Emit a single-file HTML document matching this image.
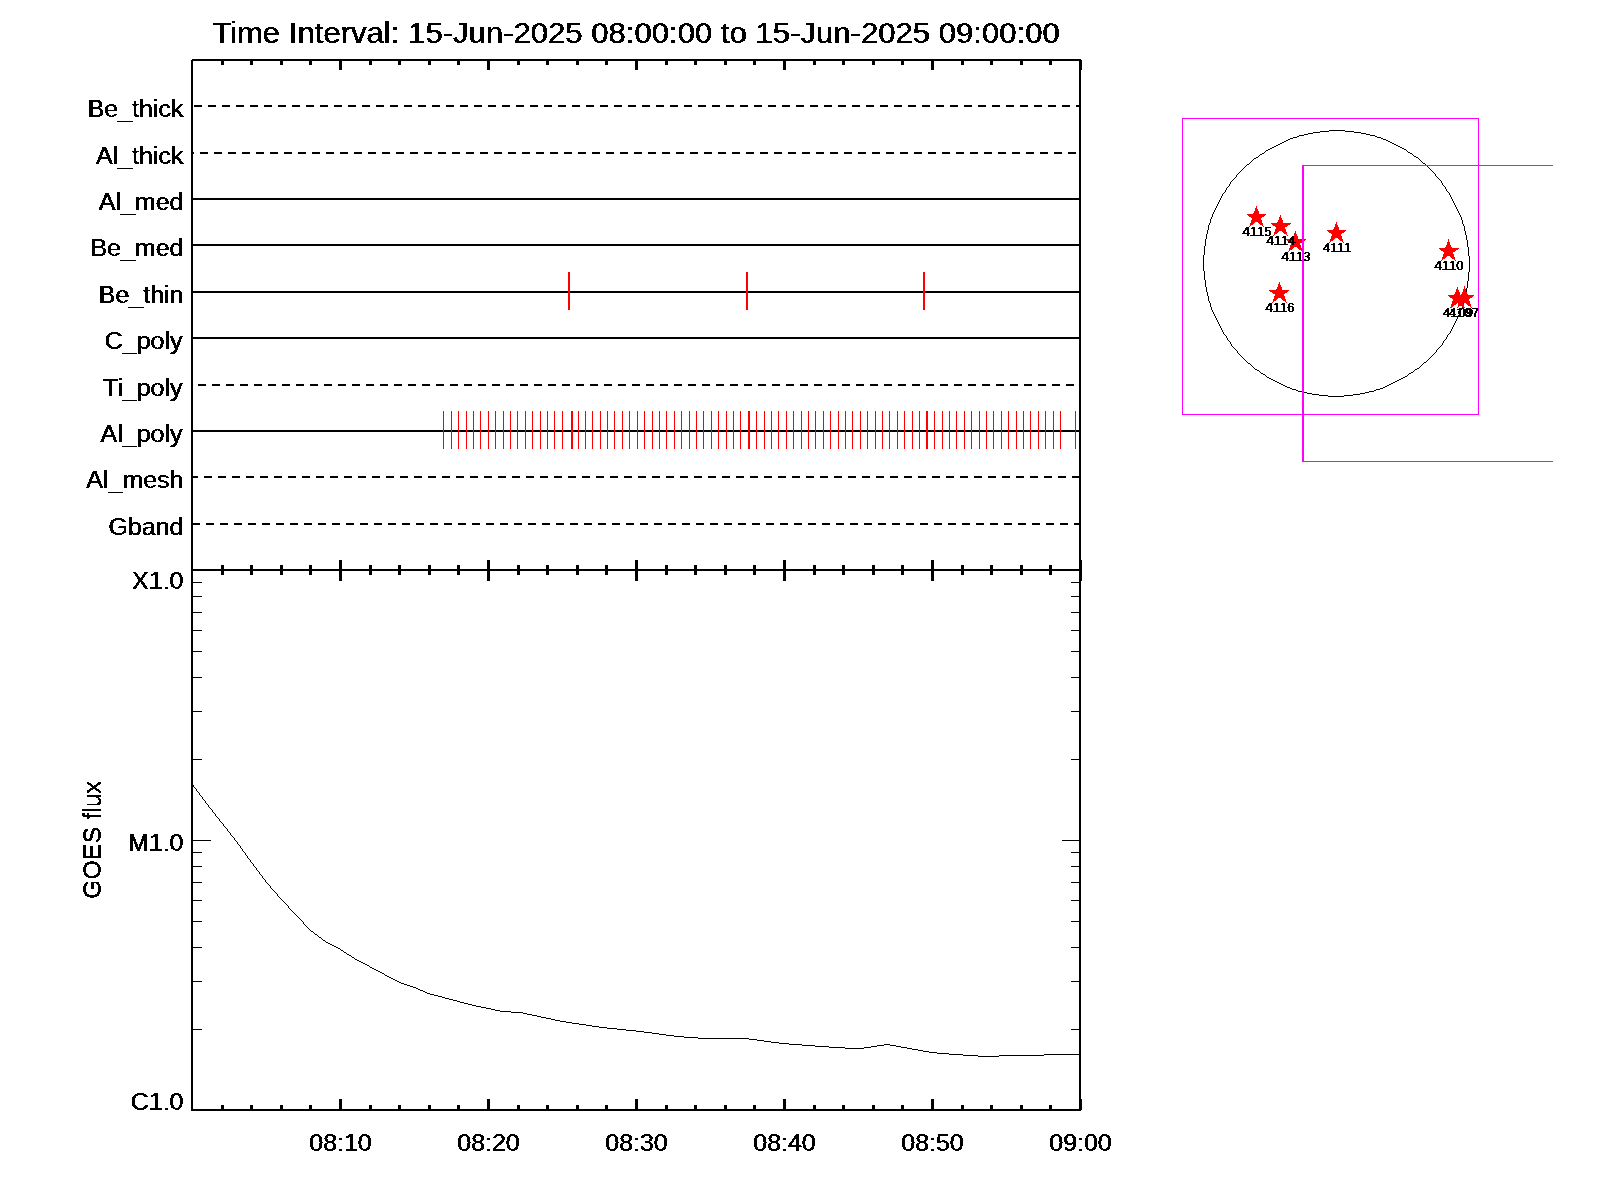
<!DOCTYPE html>
<html lang="en"><head><meta charset="utf-8"><title>Time Interval plot</title>
<style>html,body{margin:0;padding:0;background:#fff;}body{width:1600px;height:1200px;overflow:hidden;}svg{display:block;}text{font-family:"Liberation Sans",sans-serif;fill:#000;}.t{font-size:31px;}.l{font-size:25px;}.s{font-size:13px;letter-spacing:0.4px;}</style></head><body>
<svg width="1600" height="1200" viewBox="0 0 1600 1200">
<rect width="1600" height="1200" fill="#fff"/>
<defs><filter id="bold" x="-10%" y="-30%" width="120%" height="160%" color-interpolation-filters="sRGB"><feComponentTransfer result="t"><feFuncA type="discrete" tableValues="0 0 0 1 1"/></feComponentTransfer><feOffset in="t" dx="1" dy="0" result="o"/><feMerge><feMergeNode in="t"/><feMergeNode in="o"/></feMerge></filter><filter id="bold2" x="-10%" y="-30%" width="120%" height="160%" color-interpolation-filters="sRGB"><feComponentTransfer result="t"><feFuncA type="discrete" tableValues="0 1"/></feComponentTransfer><feOffset in="t" dx="1" dy="0" result="o"/><feMerge><feMergeNode in="t"/><feMergeNode in="o"/></feMerge></filter></defs>
<g shape-rendering="crispEdges">
<rect x="193" y="523" width="7" height="2" fill="#000"/>
<rect x="206" y="523" width="8" height="2" fill="#000"/>
<rect x="220" y="523" width="8" height="2" fill="#000"/>
<rect x="234" y="523" width="8" height="2" fill="#000"/>
<rect x="248" y="523" width="8" height="2" fill="#000"/>
<rect x="262" y="523" width="8" height="2" fill="#000"/>
<rect x="276" y="523" width="8" height="2" fill="#000"/>
<rect x="290" y="523" width="8" height="2" fill="#000"/>
<rect x="304" y="523" width="8" height="2" fill="#000"/>
<rect x="318" y="523" width="8" height="2" fill="#000"/>
<rect x="332" y="523" width="8" height="2" fill="#000"/>
<rect x="346" y="523" width="8" height="2" fill="#000"/>
<rect x="360" y="523" width="8" height="2" fill="#000"/>
<rect x="374" y="523" width="8" height="2" fill="#000"/>
<rect x="388" y="523" width="8" height="2" fill="#000"/>
<rect x="402" y="523" width="8" height="2" fill="#000"/>
<rect x="416" y="523" width="8" height="2" fill="#000"/>
<rect x="430" y="523" width="8" height="2" fill="#000"/>
<rect x="444" y="523" width="8" height="2" fill="#000"/>
<rect x="458" y="523" width="8" height="2" fill="#000"/>
<rect x="472" y="523" width="8" height="2" fill="#000"/>
<rect x="486" y="523" width="8" height="2" fill="#000"/>
<rect x="500" y="523" width="8" height="2" fill="#000"/>
<rect x="514" y="523" width="8" height="2" fill="#000"/>
<rect x="528" y="523" width="8" height="2" fill="#000"/>
<rect x="542" y="523" width="8" height="2" fill="#000"/>
<rect x="556" y="523" width="8" height="2" fill="#000"/>
<rect x="570" y="523" width="8" height="2" fill="#000"/>
<rect x="584" y="523" width="8" height="2" fill="#000"/>
<rect x="598" y="523" width="8" height="2" fill="#000"/>
<rect x="612" y="523" width="8" height="2" fill="#000"/>
<rect x="626" y="523" width="8" height="2" fill="#000"/>
<rect x="640" y="523" width="8" height="2" fill="#000"/>
<rect x="654" y="523" width="8" height="2" fill="#000"/>
<rect x="668" y="523" width="8" height="2" fill="#000"/>
<rect x="682" y="523" width="8" height="2" fill="#000"/>
<rect x="696" y="523" width="8" height="2" fill="#000"/>
<rect x="710" y="523" width="8" height="2" fill="#000"/>
<rect x="724" y="523" width="8" height="2" fill="#000"/>
<rect x="738" y="523" width="8" height="2" fill="#000"/>
<rect x="752" y="523" width="8" height="2" fill="#000"/>
<rect x="766" y="523" width="8" height="2" fill="#000"/>
<rect x="780" y="523" width="8" height="2" fill="#000"/>
<rect x="794" y="523" width="8" height="2" fill="#000"/>
<rect x="808" y="523" width="8" height="2" fill="#000"/>
<rect x="822" y="523" width="8" height="2" fill="#000"/>
<rect x="836" y="523" width="8" height="2" fill="#000"/>
<rect x="850" y="523" width="8" height="2" fill="#000"/>
<rect x="864" y="523" width="8" height="2" fill="#000"/>
<rect x="878" y="523" width="8" height="2" fill="#000"/>
<rect x="892" y="523" width="8" height="2" fill="#000"/>
<rect x="906" y="523" width="8" height="2" fill="#000"/>
<rect x="920" y="523" width="8" height="2" fill="#000"/>
<rect x="934" y="523" width="8" height="2" fill="#000"/>
<rect x="948" y="523" width="8" height="2" fill="#000"/>
<rect x="962" y="523" width="8" height="2" fill="#000"/>
<rect x="976" y="523" width="8" height="2" fill="#000"/>
<rect x="990" y="523" width="8" height="2" fill="#000"/>
<rect x="1004" y="523" width="8" height="2" fill="#000"/>
<rect x="1018" y="523" width="8" height="2" fill="#000"/>
<rect x="1032" y="523" width="8" height="2" fill="#000"/>
<rect x="1046" y="523" width="8" height="2" fill="#000"/>
<rect x="1060" y="523" width="8" height="2" fill="#000"/>
<rect x="1074" y="523" width="5" height="2" fill="#000"/>
<rect x="193" y="476" width="5" height="2" fill="#000"/>
<rect x="204" y="476" width="8" height="2" fill="#000"/>
<rect x="218" y="476" width="8" height="2" fill="#000"/>
<rect x="232" y="476" width="8" height="2" fill="#000"/>
<rect x="246" y="476" width="8" height="2" fill="#000"/>
<rect x="260" y="476" width="8" height="2" fill="#000"/>
<rect x="274" y="476" width="8" height="2" fill="#000"/>
<rect x="288" y="476" width="8" height="2" fill="#000"/>
<rect x="302" y="476" width="8" height="2" fill="#000"/>
<rect x="316" y="476" width="8" height="2" fill="#000"/>
<rect x="330" y="476" width="8" height="2" fill="#000"/>
<rect x="344" y="476" width="8" height="2" fill="#000"/>
<rect x="358" y="476" width="8" height="2" fill="#000"/>
<rect x="372" y="476" width="8" height="2" fill="#000"/>
<rect x="386" y="476" width="8" height="2" fill="#000"/>
<rect x="400" y="476" width="8" height="2" fill="#000"/>
<rect x="414" y="476" width="8" height="2" fill="#000"/>
<rect x="428" y="476" width="8" height="2" fill="#000"/>
<rect x="442" y="476" width="8" height="2" fill="#000"/>
<rect x="456" y="476" width="8" height="2" fill="#000"/>
<rect x="470" y="476" width="8" height="2" fill="#000"/>
<rect x="484" y="476" width="8" height="2" fill="#000"/>
<rect x="498" y="476" width="8" height="2" fill="#000"/>
<rect x="512" y="476" width="8" height="2" fill="#000"/>
<rect x="526" y="476" width="8" height="2" fill="#000"/>
<rect x="540" y="476" width="8" height="2" fill="#000"/>
<rect x="554" y="476" width="8" height="2" fill="#000"/>
<rect x="568" y="476" width="8" height="2" fill="#000"/>
<rect x="582" y="476" width="8" height="2" fill="#000"/>
<rect x="596" y="476" width="8" height="2" fill="#000"/>
<rect x="610" y="476" width="8" height="2" fill="#000"/>
<rect x="624" y="476" width="8" height="2" fill="#000"/>
<rect x="638" y="476" width="8" height="2" fill="#000"/>
<rect x="652" y="476" width="8" height="2" fill="#000"/>
<rect x="666" y="476" width="8" height="2" fill="#000"/>
<rect x="680" y="476" width="8" height="2" fill="#000"/>
<rect x="694" y="476" width="8" height="2" fill="#000"/>
<rect x="708" y="476" width="8" height="2" fill="#000"/>
<rect x="722" y="476" width="8" height="2" fill="#000"/>
<rect x="736" y="476" width="8" height="2" fill="#000"/>
<rect x="750" y="476" width="8" height="2" fill="#000"/>
<rect x="764" y="476" width="8" height="2" fill="#000"/>
<rect x="778" y="476" width="8" height="2" fill="#000"/>
<rect x="792" y="476" width="8" height="2" fill="#000"/>
<rect x="806" y="476" width="8" height="2" fill="#000"/>
<rect x="820" y="476" width="8" height="2" fill="#000"/>
<rect x="834" y="476" width="8" height="2" fill="#000"/>
<rect x="848" y="476" width="8" height="2" fill="#000"/>
<rect x="862" y="476" width="8" height="2" fill="#000"/>
<rect x="876" y="476" width="8" height="2" fill="#000"/>
<rect x="890" y="476" width="8" height="2" fill="#000"/>
<rect x="904" y="476" width="8" height="2" fill="#000"/>
<rect x="918" y="476" width="8" height="2" fill="#000"/>
<rect x="932" y="476" width="8" height="2" fill="#000"/>
<rect x="946" y="476" width="8" height="2" fill="#000"/>
<rect x="960" y="476" width="8" height="2" fill="#000"/>
<rect x="974" y="476" width="8" height="2" fill="#000"/>
<rect x="988" y="476" width="8" height="2" fill="#000"/>
<rect x="1002" y="476" width="8" height="2" fill="#000"/>
<rect x="1016" y="476" width="8" height="2" fill="#000"/>
<rect x="1030" y="476" width="8" height="2" fill="#000"/>
<rect x="1044" y="476" width="8" height="2" fill="#000"/>
<rect x="1058" y="476" width="8" height="2" fill="#000"/>
<rect x="1072" y="476" width="7" height="2" fill="#000"/>
<rect x="193" y="430" width="886" height="2" fill="#000"/>
<rect x="198" y="384" width="8" height="2" fill="#000"/>
<rect x="212" y="384" width="8" height="2" fill="#000"/>
<rect x="226" y="384" width="8" height="2" fill="#000"/>
<rect x="240" y="384" width="8" height="2" fill="#000"/>
<rect x="254" y="384" width="8" height="2" fill="#000"/>
<rect x="268" y="384" width="8" height="2" fill="#000"/>
<rect x="282" y="384" width="8" height="2" fill="#000"/>
<rect x="296" y="384" width="8" height="2" fill="#000"/>
<rect x="310" y="384" width="8" height="2" fill="#000"/>
<rect x="324" y="384" width="8" height="2" fill="#000"/>
<rect x="338" y="384" width="8" height="2" fill="#000"/>
<rect x="352" y="384" width="8" height="2" fill="#000"/>
<rect x="366" y="384" width="8" height="2" fill="#000"/>
<rect x="380" y="384" width="8" height="2" fill="#000"/>
<rect x="394" y="384" width="8" height="2" fill="#000"/>
<rect x="408" y="384" width="8" height="2" fill="#000"/>
<rect x="422" y="384" width="8" height="2" fill="#000"/>
<rect x="436" y="384" width="8" height="2" fill="#000"/>
<rect x="450" y="384" width="8" height="2" fill="#000"/>
<rect x="464" y="384" width="8" height="2" fill="#000"/>
<rect x="478" y="384" width="8" height="2" fill="#000"/>
<rect x="492" y="384" width="8" height="2" fill="#000"/>
<rect x="506" y="384" width="8" height="2" fill="#000"/>
<rect x="520" y="384" width="8" height="2" fill="#000"/>
<rect x="534" y="384" width="8" height="2" fill="#000"/>
<rect x="548" y="384" width="8" height="2" fill="#000"/>
<rect x="562" y="384" width="8" height="2" fill="#000"/>
<rect x="576" y="384" width="8" height="2" fill="#000"/>
<rect x="590" y="384" width="8" height="2" fill="#000"/>
<rect x="604" y="384" width="8" height="2" fill="#000"/>
<rect x="618" y="384" width="8" height="2" fill="#000"/>
<rect x="632" y="384" width="8" height="2" fill="#000"/>
<rect x="646" y="384" width="8" height="2" fill="#000"/>
<rect x="660" y="384" width="8" height="2" fill="#000"/>
<rect x="674" y="384" width="8" height="2" fill="#000"/>
<rect x="688" y="384" width="8" height="2" fill="#000"/>
<rect x="702" y="384" width="8" height="2" fill="#000"/>
<rect x="716" y="384" width="8" height="2" fill="#000"/>
<rect x="730" y="384" width="8" height="2" fill="#000"/>
<rect x="744" y="384" width="8" height="2" fill="#000"/>
<rect x="758" y="384" width="8" height="2" fill="#000"/>
<rect x="772" y="384" width="8" height="2" fill="#000"/>
<rect x="786" y="384" width="8" height="2" fill="#000"/>
<rect x="800" y="384" width="8" height="2" fill="#000"/>
<rect x="814" y="384" width="8" height="2" fill="#000"/>
<rect x="828" y="384" width="8" height="2" fill="#000"/>
<rect x="842" y="384" width="8" height="2" fill="#000"/>
<rect x="856" y="384" width="8" height="2" fill="#000"/>
<rect x="870" y="384" width="8" height="2" fill="#000"/>
<rect x="884" y="384" width="8" height="2" fill="#000"/>
<rect x="898" y="384" width="8" height="2" fill="#000"/>
<rect x="912" y="384" width="8" height="2" fill="#000"/>
<rect x="926" y="384" width="8" height="2" fill="#000"/>
<rect x="940" y="384" width="8" height="2" fill="#000"/>
<rect x="954" y="384" width="8" height="2" fill="#000"/>
<rect x="968" y="384" width="8" height="2" fill="#000"/>
<rect x="982" y="384" width="8" height="2" fill="#000"/>
<rect x="996" y="384" width="8" height="2" fill="#000"/>
<rect x="1010" y="384" width="8" height="2" fill="#000"/>
<rect x="1024" y="384" width="8" height="2" fill="#000"/>
<rect x="1038" y="384" width="8" height="2" fill="#000"/>
<rect x="1052" y="384" width="8" height="2" fill="#000"/>
<rect x="1066" y="384" width="8" height="2" fill="#000"/>
<rect x="193" y="337" width="886" height="2" fill="#000"/>
<rect x="193" y="291" width="886" height="2" fill="#000"/>
<rect x="193" y="244" width="886" height="2" fill="#000"/>
<rect x="193" y="198" width="886" height="2" fill="#000"/>
<rect x="193" y="152" width="1" height="2" fill="#000"/>
<rect x="200" y="152" width="8" height="2" fill="#000"/>
<rect x="214" y="152" width="8" height="2" fill="#000"/>
<rect x="228" y="152" width="8" height="2" fill="#000"/>
<rect x="242" y="152" width="8" height="2" fill="#000"/>
<rect x="256" y="152" width="8" height="2" fill="#000"/>
<rect x="270" y="152" width="8" height="2" fill="#000"/>
<rect x="284" y="152" width="8" height="2" fill="#000"/>
<rect x="298" y="152" width="8" height="2" fill="#000"/>
<rect x="312" y="152" width="8" height="2" fill="#000"/>
<rect x="326" y="152" width="8" height="2" fill="#000"/>
<rect x="340" y="152" width="8" height="2" fill="#000"/>
<rect x="354" y="152" width="8" height="2" fill="#000"/>
<rect x="368" y="152" width="8" height="2" fill="#000"/>
<rect x="382" y="152" width="8" height="2" fill="#000"/>
<rect x="396" y="152" width="8" height="2" fill="#000"/>
<rect x="410" y="152" width="8" height="2" fill="#000"/>
<rect x="424" y="152" width="8" height="2" fill="#000"/>
<rect x="438" y="152" width="8" height="2" fill="#000"/>
<rect x="452" y="152" width="8" height="2" fill="#000"/>
<rect x="466" y="152" width="8" height="2" fill="#000"/>
<rect x="480" y="152" width="8" height="2" fill="#000"/>
<rect x="494" y="152" width="8" height="2" fill="#000"/>
<rect x="508" y="152" width="8" height="2" fill="#000"/>
<rect x="522" y="152" width="8" height="2" fill="#000"/>
<rect x="536" y="152" width="8" height="2" fill="#000"/>
<rect x="550" y="152" width="8" height="2" fill="#000"/>
<rect x="564" y="152" width="8" height="2" fill="#000"/>
<rect x="578" y="152" width="8" height="2" fill="#000"/>
<rect x="592" y="152" width="8" height="2" fill="#000"/>
<rect x="606" y="152" width="8" height="2" fill="#000"/>
<rect x="620" y="152" width="8" height="2" fill="#000"/>
<rect x="634" y="152" width="8" height="2" fill="#000"/>
<rect x="648" y="152" width="8" height="2" fill="#000"/>
<rect x="662" y="152" width="8" height="2" fill="#000"/>
<rect x="676" y="152" width="8" height="2" fill="#000"/>
<rect x="690" y="152" width="8" height="2" fill="#000"/>
<rect x="704" y="152" width="8" height="2" fill="#000"/>
<rect x="718" y="152" width="8" height="2" fill="#000"/>
<rect x="732" y="152" width="8" height="2" fill="#000"/>
<rect x="746" y="152" width="8" height="2" fill="#000"/>
<rect x="760" y="152" width="8" height="2" fill="#000"/>
<rect x="774" y="152" width="8" height="2" fill="#000"/>
<rect x="788" y="152" width="8" height="2" fill="#000"/>
<rect x="802" y="152" width="8" height="2" fill="#000"/>
<rect x="816" y="152" width="8" height="2" fill="#000"/>
<rect x="830" y="152" width="8" height="2" fill="#000"/>
<rect x="844" y="152" width="8" height="2" fill="#000"/>
<rect x="858" y="152" width="8" height="2" fill="#000"/>
<rect x="872" y="152" width="8" height="2" fill="#000"/>
<rect x="886" y="152" width="8" height="2" fill="#000"/>
<rect x="900" y="152" width="8" height="2" fill="#000"/>
<rect x="914" y="152" width="8" height="2" fill="#000"/>
<rect x="928" y="152" width="8" height="2" fill="#000"/>
<rect x="942" y="152" width="8" height="2" fill="#000"/>
<rect x="956" y="152" width="8" height="2" fill="#000"/>
<rect x="970" y="152" width="8" height="2" fill="#000"/>
<rect x="984" y="152" width="8" height="2" fill="#000"/>
<rect x="998" y="152" width="8" height="2" fill="#000"/>
<rect x="1012" y="152" width="8" height="2" fill="#000"/>
<rect x="1026" y="152" width="8" height="2" fill="#000"/>
<rect x="1040" y="152" width="8" height="2" fill="#000"/>
<rect x="1054" y="152" width="8" height="2" fill="#000"/>
<rect x="1068" y="152" width="8" height="2" fill="#000"/>
<rect x="194" y="105" width="8" height="2" fill="#000"/>
<rect x="208" y="105" width="8" height="2" fill="#000"/>
<rect x="222" y="105" width="8" height="2" fill="#000"/>
<rect x="236" y="105" width="8" height="2" fill="#000"/>
<rect x="250" y="105" width="8" height="2" fill="#000"/>
<rect x="264" y="105" width="8" height="2" fill="#000"/>
<rect x="278" y="105" width="8" height="2" fill="#000"/>
<rect x="292" y="105" width="8" height="2" fill="#000"/>
<rect x="306" y="105" width="8" height="2" fill="#000"/>
<rect x="320" y="105" width="8" height="2" fill="#000"/>
<rect x="334" y="105" width="8" height="2" fill="#000"/>
<rect x="348" y="105" width="8" height="2" fill="#000"/>
<rect x="362" y="105" width="8" height="2" fill="#000"/>
<rect x="376" y="105" width="8" height="2" fill="#000"/>
<rect x="390" y="105" width="8" height="2" fill="#000"/>
<rect x="404" y="105" width="8" height="2" fill="#000"/>
<rect x="418" y="105" width="8" height="2" fill="#000"/>
<rect x="432" y="105" width="8" height="2" fill="#000"/>
<rect x="446" y="105" width="8" height="2" fill="#000"/>
<rect x="460" y="105" width="8" height="2" fill="#000"/>
<rect x="474" y="105" width="8" height="2" fill="#000"/>
<rect x="488" y="105" width="8" height="2" fill="#000"/>
<rect x="502" y="105" width="8" height="2" fill="#000"/>
<rect x="516" y="105" width="8" height="2" fill="#000"/>
<rect x="530" y="105" width="8" height="2" fill="#000"/>
<rect x="544" y="105" width="8" height="2" fill="#000"/>
<rect x="558" y="105" width="8" height="2" fill="#000"/>
<rect x="572" y="105" width="8" height="2" fill="#000"/>
<rect x="586" y="105" width="8" height="2" fill="#000"/>
<rect x="600" y="105" width="8" height="2" fill="#000"/>
<rect x="614" y="105" width="8" height="2" fill="#000"/>
<rect x="628" y="105" width="8" height="2" fill="#000"/>
<rect x="642" y="105" width="8" height="2" fill="#000"/>
<rect x="656" y="105" width="8" height="2" fill="#000"/>
<rect x="670" y="105" width="8" height="2" fill="#000"/>
<rect x="684" y="105" width="8" height="2" fill="#000"/>
<rect x="698" y="105" width="8" height="2" fill="#000"/>
<rect x="712" y="105" width="8" height="2" fill="#000"/>
<rect x="726" y="105" width="8" height="2" fill="#000"/>
<rect x="740" y="105" width="8" height="2" fill="#000"/>
<rect x="754" y="105" width="8" height="2" fill="#000"/>
<rect x="768" y="105" width="8" height="2" fill="#000"/>
<rect x="782" y="105" width="8" height="2" fill="#000"/>
<rect x="796" y="105" width="8" height="2" fill="#000"/>
<rect x="810" y="105" width="8" height="2" fill="#000"/>
<rect x="824" y="105" width="8" height="2" fill="#000"/>
<rect x="838" y="105" width="8" height="2" fill="#000"/>
<rect x="852" y="105" width="8" height="2" fill="#000"/>
<rect x="866" y="105" width="8" height="2" fill="#000"/>
<rect x="880" y="105" width="8" height="2" fill="#000"/>
<rect x="894" y="105" width="8" height="2" fill="#000"/>
<rect x="908" y="105" width="8" height="2" fill="#000"/>
<rect x="922" y="105" width="8" height="2" fill="#000"/>
<rect x="936" y="105" width="8" height="2" fill="#000"/>
<rect x="950" y="105" width="8" height="2" fill="#000"/>
<rect x="964" y="105" width="8" height="2" fill="#000"/>
<rect x="978" y="105" width="8" height="2" fill="#000"/>
<rect x="992" y="105" width="8" height="2" fill="#000"/>
<rect x="1006" y="105" width="8" height="2" fill="#000"/>
<rect x="1020" y="105" width="8" height="2" fill="#000"/>
<rect x="1034" y="105" width="8" height="2" fill="#000"/>
<rect x="1048" y="105" width="8" height="2" fill="#000"/>
<rect x="1062" y="105" width="8" height="2" fill="#000"/>
<rect x="1076" y="105" width="3" height="2" fill="#000"/>
<rect x="443" y="411" width="1" height="38" fill="#f00"/>
<rect x="451" y="411" width="1" height="38" fill="#f00"/>
<rect x="458" y="411" width="1" height="38" fill="#f00"/>
<rect x="466" y="411" width="1" height="38" fill="#f00"/>
<rect x="473" y="411" width="1" height="38" fill="#f00"/>
<rect x="480" y="411" width="1" height="38" fill="#f00"/>
<rect x="488" y="411" width="1" height="38" fill="#f00"/>
<rect x="495" y="411" width="1" height="38" fill="#f00"/>
<rect x="503" y="411" width="1" height="38" fill="#f00"/>
<rect x="510" y="411" width="1" height="38" fill="#f00"/>
<rect x="517" y="411" width="1" height="38" fill="#f00"/>
<rect x="525" y="411" width="1" height="38" fill="#f00"/>
<rect x="532" y="411" width="1" height="38" fill="#f00"/>
<rect x="540" y="411" width="1" height="38" fill="#f00"/>
<rect x="547" y="411" width="1" height="38" fill="#f00"/>
<rect x="554" y="411" width="1" height="38" fill="#f00"/>
<rect x="562" y="411" width="1" height="38" fill="#f00"/>
<rect x="571" y="411" width="1" height="38" fill="#f00"/>
<rect x="572" y="411" width="1" height="38" fill="#f00"/>
<rect x="578" y="411" width="1" height="38" fill="#f00"/>
<rect x="585" y="411" width="1" height="38" fill="#f00"/>
<rect x="592" y="411" width="1" height="38" fill="#f00"/>
<rect x="600" y="411" width="1" height="38" fill="#f00"/>
<rect x="607" y="411" width="1" height="38" fill="#f00"/>
<rect x="614" y="411" width="1" height="38" fill="#f00"/>
<rect x="622" y="411" width="1" height="38" fill="#f00"/>
<rect x="629" y="411" width="1" height="38" fill="#f00"/>
<rect x="637" y="411" width="1" height="38" fill="#f00"/>
<rect x="644" y="411" width="1" height="38" fill="#f00"/>
<rect x="652" y="411" width="1" height="38" fill="#f00"/>
<rect x="659" y="411" width="1" height="38" fill="#f00"/>
<rect x="666" y="411" width="1" height="38" fill="#f00"/>
<rect x="674" y="411" width="1" height="38" fill="#f00"/>
<rect x="681" y="411" width="1" height="38" fill="#f00"/>
<rect x="689" y="411" width="1" height="38" fill="#f00"/>
<rect x="696" y="411" width="1" height="38" fill="#f00"/>
<rect x="703" y="411" width="1" height="38" fill="#f00"/>
<rect x="711" y="411" width="1" height="38" fill="#f00"/>
<rect x="718" y="411" width="1" height="38" fill="#f00"/>
<rect x="726" y="411" width="1" height="38" fill="#f00"/>
<rect x="733" y="411" width="1" height="38" fill="#f00"/>
<rect x="740" y="411" width="1" height="38" fill="#f00"/>
<rect x="748" y="411" width="1" height="38" fill="#f00"/>
<rect x="749" y="411" width="1" height="38" fill="#f00"/>
<rect x="756" y="411" width="1" height="38" fill="#f00"/>
<rect x="764" y="411" width="1" height="38" fill="#f00"/>
<rect x="771" y="411" width="1" height="38" fill="#f00"/>
<rect x="778" y="411" width="1" height="38" fill="#f00"/>
<rect x="786" y="411" width="1" height="38" fill="#f00"/>
<rect x="793" y="411" width="1" height="38" fill="#f00"/>
<rect x="801" y="411" width="1" height="38" fill="#f00"/>
<rect x="808" y="411" width="1" height="38" fill="#f00"/>
<rect x="815" y="411" width="1" height="38" fill="#f00"/>
<rect x="823" y="411" width="1" height="38" fill="#f00"/>
<rect x="830" y="411" width="1" height="38" fill="#f00"/>
<rect x="838" y="411" width="1" height="38" fill="#f00"/>
<rect x="845" y="411" width="1" height="38" fill="#f00"/>
<rect x="852" y="411" width="1" height="38" fill="#f00"/>
<rect x="860" y="411" width="1" height="38" fill="#f00"/>
<rect x="867" y="411" width="1" height="38" fill="#f00"/>
<rect x="875" y="411" width="1" height="38" fill="#f00"/>
<rect x="882" y="411" width="1" height="38" fill="#f00"/>
<rect x="889" y="411" width="1" height="38" fill="#f00"/>
<rect x="897" y="411" width="1" height="38" fill="#f00"/>
<rect x="904" y="411" width="1" height="38" fill="#f00"/>
<rect x="912" y="411" width="1" height="38" fill="#f00"/>
<rect x="919" y="411" width="1" height="38" fill="#f00"/>
<rect x="926" y="411" width="1" height="38" fill="#f00"/>
<rect x="927" y="411" width="1" height="38" fill="#f00"/>
<rect x="934" y="411" width="1" height="38" fill="#f00"/>
<rect x="942" y="411" width="1" height="38" fill="#f00"/>
<rect x="949" y="411" width="1" height="38" fill="#f00"/>
<rect x="956" y="411" width="1" height="38" fill="#f00"/>
<rect x="964" y="411" width="1" height="38" fill="#f00"/>
<rect x="971" y="411" width="1" height="38" fill="#f00"/>
<rect x="979" y="411" width="1" height="38" fill="#f00"/>
<rect x="986" y="411" width="1" height="38" fill="#f00"/>
<rect x="993" y="411" width="1" height="38" fill="#f00"/>
<rect x="1001" y="411" width="1" height="38" fill="#f00"/>
<rect x="1008" y="411" width="1" height="38" fill="#f00"/>
<rect x="1016" y="411" width="1" height="38" fill="#f00"/>
<rect x="1023" y="411" width="1" height="38" fill="#f00"/>
<rect x="1030" y="411" width="1" height="38" fill="#f00"/>
<rect x="1038" y="411" width="1" height="38" fill="#f00"/>
<rect x="1045" y="411" width="1" height="38" fill="#f00"/>
<rect x="1053" y="411" width="1" height="38" fill="#f00"/>
<rect x="1060" y="411" width="1" height="38" fill="#f00"/>
<rect x="1075" y="411" width="1" height="38" fill="#f00"/>
<rect x="568" y="272" width="2" height="38" fill="#f00"/>
<rect x="746" y="272" width="2" height="38" fill="#f00"/>
<rect x="923" y="272" width="2" height="38" fill="#f00"/>
<rect x="191" y="60" width="2" height="1051" fill="#000"/>
<rect x="1079" y="59" width="2" height="1052" fill="#000"/>
<rect x="192" y="59" width="889" height="2" fill="#000"/>
<rect x="192" y="569" width="889" height="2" fill="#000"/>
<rect x="191" y="1109" width="890" height="2" fill="#000"/>
<rect x="221" y="61" width="3" height="4" fill="#000"/>
<rect x="221" y="565" width="3" height="10" fill="#000"/>
<rect x="221" y="1105" width="3" height="4" fill="#000"/>
<rect x="250" y="61" width="3" height="4" fill="#000"/>
<rect x="250" y="565" width="3" height="10" fill="#000"/>
<rect x="250" y="1105" width="3" height="4" fill="#000"/>
<rect x="280" y="61" width="3" height="4" fill="#000"/>
<rect x="280" y="565" width="3" height="10" fill="#000"/>
<rect x="280" y="1105" width="3" height="4" fill="#000"/>
<rect x="309" y="61" width="3" height="4" fill="#000"/>
<rect x="309" y="565" width="3" height="10" fill="#000"/>
<rect x="309" y="1105" width="3" height="4" fill="#000"/>
<rect x="339" y="61" width="3" height="9" fill="#000"/>
<rect x="339" y="560" width="3" height="21" fill="#000"/>
<rect x="339" y="1099" width="3" height="10" fill="#000"/>
<rect x="369" y="61" width="3" height="4" fill="#000"/>
<rect x="369" y="565" width="3" height="10" fill="#000"/>
<rect x="369" y="1105" width="3" height="4" fill="#000"/>
<rect x="398" y="61" width="3" height="4" fill="#000"/>
<rect x="398" y="565" width="3" height="10" fill="#000"/>
<rect x="398" y="1105" width="3" height="4" fill="#000"/>
<rect x="428" y="61" width="3" height="4" fill="#000"/>
<rect x="428" y="565" width="3" height="10" fill="#000"/>
<rect x="428" y="1105" width="3" height="4" fill="#000"/>
<rect x="457" y="61" width="3" height="4" fill="#000"/>
<rect x="457" y="565" width="3" height="10" fill="#000"/>
<rect x="457" y="1105" width="3" height="4" fill="#000"/>
<rect x="487" y="61" width="3" height="9" fill="#000"/>
<rect x="487" y="560" width="3" height="21" fill="#000"/>
<rect x="487" y="1099" width="3" height="10" fill="#000"/>
<rect x="517" y="61" width="3" height="4" fill="#000"/>
<rect x="517" y="565" width="3" height="10" fill="#000"/>
<rect x="517" y="1105" width="3" height="4" fill="#000"/>
<rect x="546" y="61" width="3" height="4" fill="#000"/>
<rect x="546" y="565" width="3" height="10" fill="#000"/>
<rect x="546" y="1105" width="3" height="4" fill="#000"/>
<rect x="576" y="61" width="3" height="4" fill="#000"/>
<rect x="576" y="565" width="3" height="10" fill="#000"/>
<rect x="576" y="1105" width="3" height="4" fill="#000"/>
<rect x="605" y="61" width="3" height="4" fill="#000"/>
<rect x="605" y="565" width="3" height="10" fill="#000"/>
<rect x="605" y="1105" width="3" height="4" fill="#000"/>
<rect x="635" y="61" width="3" height="9" fill="#000"/>
<rect x="635" y="560" width="3" height="21" fill="#000"/>
<rect x="635" y="1099" width="3" height="10" fill="#000"/>
<rect x="665" y="61" width="3" height="4" fill="#000"/>
<rect x="665" y="565" width="3" height="10" fill="#000"/>
<rect x="665" y="1105" width="3" height="4" fill="#000"/>
<rect x="694" y="61" width="3" height="4" fill="#000"/>
<rect x="694" y="565" width="3" height="10" fill="#000"/>
<rect x="694" y="1105" width="3" height="4" fill="#000"/>
<rect x="724" y="61" width="3" height="4" fill="#000"/>
<rect x="724" y="565" width="3" height="10" fill="#000"/>
<rect x="724" y="1105" width="3" height="4" fill="#000"/>
<rect x="753" y="61" width="3" height="4" fill="#000"/>
<rect x="753" y="565" width="3" height="10" fill="#000"/>
<rect x="753" y="1105" width="3" height="4" fill="#000"/>
<rect x="783" y="61" width="3" height="9" fill="#000"/>
<rect x="783" y="560" width="3" height="21" fill="#000"/>
<rect x="783" y="1099" width="3" height="10" fill="#000"/>
<rect x="813" y="61" width="3" height="4" fill="#000"/>
<rect x="813" y="565" width="3" height="10" fill="#000"/>
<rect x="813" y="1105" width="3" height="4" fill="#000"/>
<rect x="842" y="61" width="3" height="4" fill="#000"/>
<rect x="842" y="565" width="3" height="10" fill="#000"/>
<rect x="842" y="1105" width="3" height="4" fill="#000"/>
<rect x="872" y="61" width="3" height="4" fill="#000"/>
<rect x="872" y="565" width="3" height="10" fill="#000"/>
<rect x="872" y="1105" width="3" height="4" fill="#000"/>
<rect x="901" y="61" width="3" height="4" fill="#000"/>
<rect x="901" y="565" width="3" height="10" fill="#000"/>
<rect x="901" y="1105" width="3" height="4" fill="#000"/>
<rect x="931" y="61" width="3" height="9" fill="#000"/>
<rect x="931" y="560" width="3" height="21" fill="#000"/>
<rect x="931" y="1099" width="3" height="10" fill="#000"/>
<rect x="961" y="61" width="3" height="4" fill="#000"/>
<rect x="961" y="565" width="3" height="10" fill="#000"/>
<rect x="961" y="1105" width="3" height="4" fill="#000"/>
<rect x="990" y="61" width="3" height="4" fill="#000"/>
<rect x="990" y="565" width="3" height="10" fill="#000"/>
<rect x="990" y="1105" width="3" height="4" fill="#000"/>
<rect x="1020" y="61" width="3" height="4" fill="#000"/>
<rect x="1020" y="565" width="3" height="10" fill="#000"/>
<rect x="1020" y="1105" width="3" height="4" fill="#000"/>
<rect x="1049" y="61" width="3" height="4" fill="#000"/>
<rect x="1049" y="565" width="3" height="10" fill="#000"/>
<rect x="1049" y="1105" width="3" height="4" fill="#000"/>
<rect x="1081" y="60" width="1" height="10" fill="#000"/>
<rect x="1081" y="560" width="1" height="21" fill="#000"/>
<rect x="1081" y="1099" width="1" height="11" fill="#000"/>
<rect x="193" y="1029" width="9" height="1" fill="#000"/>
<rect x="1071" y="1029" width="8" height="1" fill="#000"/>
<rect x="193" y="981" width="9" height="1" fill="#000"/>
<rect x="1071" y="981" width="8" height="1" fill="#000"/>
<rect x="193" y="947" width="9" height="1" fill="#000"/>
<rect x="1071" y="947" width="8" height="1" fill="#000"/>
<rect x="193" y="921" width="9" height="1" fill="#000"/>
<rect x="1071" y="921" width="8" height="1" fill="#000"/>
<rect x="193" y="900" width="9" height="1" fill="#000"/>
<rect x="1071" y="900" width="8" height="1" fill="#000"/>
<rect x="193" y="882" width="9" height="1" fill="#000"/>
<rect x="1071" y="882" width="8" height="1" fill="#000"/>
<rect x="193" y="866" width="9" height="1" fill="#000"/>
<rect x="1071" y="866" width="8" height="1" fill="#000"/>
<rect x="193" y="852" width="9" height="1" fill="#000"/>
<rect x="1071" y="852" width="8" height="1" fill="#000"/>
<rect x="193" y="840" width="18" height="1" fill="#000"/>
<rect x="1062" y="840" width="17" height="1" fill="#000"/>
<rect x="193" y="759" width="9" height="1" fill="#000"/>
<rect x="1071" y="759" width="8" height="1" fill="#000"/>
<rect x="193" y="711" width="9" height="1" fill="#000"/>
<rect x="1071" y="711" width="8" height="1" fill="#000"/>
<rect x="193" y="677" width="9" height="1" fill="#000"/>
<rect x="1071" y="677" width="8" height="1" fill="#000"/>
<rect x="193" y="651" width="9" height="1" fill="#000"/>
<rect x="1071" y="651" width="8" height="1" fill="#000"/>
<rect x="193" y="630" width="9" height="1" fill="#000"/>
<rect x="1071" y="630" width="8" height="1" fill="#000"/>
<rect x="193" y="612" width="9" height="1" fill="#000"/>
<rect x="1071" y="612" width="8" height="1" fill="#000"/>
<rect x="193" y="596" width="9" height="1" fill="#000"/>
<rect x="1071" y="596" width="8" height="1" fill="#000"/>
<rect x="193" y="582" width="9" height="1" fill="#000"/>
<rect x="1071" y="582" width="8" height="1" fill="#000"/>
</g>
<path shape-rendering="crispEdges" fill="#000" d="M193 785h1v1h-1zM193 786h1v1h-1zM194 787h1v1h-1zM195 788h1v1h-1zM196 789h1v1h-1zM196 790h1v1h-1zM197 791h1v1h-1zM198 792h1v1h-1zM199 793h1v1h-1zM199 794h1v1h-1zM200 795h1v1h-1zM201 796h1v1h-1zM202 797h1v1h-1zM202 798h1v1h-1zM203 799h1v1h-1zM204 800h1v1h-1zM205 801h1v1h-1zM205 802h1v1h-1zM206 803h1v1h-1zM207 804h1v1h-1zM208 805h1v1h-1zM208 806h1v1h-1zM209 807h1v1h-1zM210 808h1v1h-1zM211 809h1v1h-1zM212 810h1v1h-1zM212 811h1v1h-1zM213 812h1v1h-1zM214 813h1v1h-1zM215 814h1v1h-1zM215 815h1v1h-1zM216 816h1v1h-1zM217 817h1v1h-1zM218 818h1v1h-1zM219 819h1v1h-1zM219 820h1v1h-1zM220 821h1v1h-1zM221 822h1v1h-1zM222 823h1v1h-1zM223 824h1v1h-1zM223 825h1v1h-1zM224 826h1v1h-1zM225 827h1v1h-1zM226 828h1v1h-1zM227 829h1v1h-1zM227 830h1v1h-1zM228 831h1v1h-1zM229 832h1v1h-1zM230 833h1v1h-1zM230 834h1v1h-1zM231 835h1v1h-1zM232 836h1v1h-1zM233 837h1v1h-1zM234 838h1v1h-1zM234 839h1v1h-1zM235 840h1v1h-1zM236 841h1v1h-1zM237 842h1v1h-1zM237 843h1v1h-1zM238 844h1v1h-1zM239 845h1v1h-1zM240 846h1v1h-1zM240 847h1v1h-1zM241 848h1v1h-1zM242 849h1v1h-1zM242 850h1v1h-1zM243 851h1v1h-1zM244 852h1v1h-1zM245 853h1v1h-1zM245 854h1v1h-1zM246 855h1v1h-1zM247 856h1v1h-1zM247 857h1v1h-1zM248 858h1v1h-1zM249 859h1v1h-1zM250 860h1v1h-1zM250 861h1v1h-1zM251 862h1v1h-1zM252 863h1v1h-1zM253 864h1v1h-1zM253 865h1v1h-1zM254 866h1v1h-1zM255 867h1v1h-1zM256 868h1v1h-1zM256 869h1v1h-1zM257 870h1v1h-1zM258 871h1v1h-1zM259 872h1v1h-1zM259 873h1v1h-1zM260 874h1v1h-1zM261 875h1v1h-1zM262 876h1v1h-1zM262 877h1v1h-1zM263 878h1v1h-1zM264 879h1v1h-1zM265 880h1v1h-1zM265 881h1v1h-1zM266 882h1v1h-1zM267 883h1v1h-1zM268 884h1v1h-1zM269 885h1v1h-1zM270 886h1v1h-1zM270 887h1v1h-1zM271 888h1v1h-1zM272 889h1v1h-1zM273 890h1v1h-1zM274 891h1v1h-1zM275 892h1v1h-1zM276 893h1v1h-1zM277 894h1v1h-1zM277 895h1v1h-1zM278 896h1v1h-1zM279 897h1v1h-1zM280 898h1v1h-1zM281 899h1v1h-1zM282 900h1v1h-1zM283 901h1v1h-1zM284 902h1v1h-1zM285 903h1v1h-1zM286 904h1v1h-1zM287 905h1v1h-1zM288 906h1v1h-1zM288 907h1v1h-1zM289 908h1v1h-1zM290 909h1v1h-1zM291 910h1v1h-1zM292 911h1v1h-1zM293 912h1v1h-1zM294 913h1v1h-1zM295 914h1v1h-1zM296 915h1v1h-1zM297 916h1v1h-1zM298 917h1v1h-1zM299 918h1v1h-1zM300 919h1v1h-1zM301 920h1v1h-1zM302 921h1v1h-1zM303 922h1v1h-1zM303 923h1v1h-1zM304 924h1v1h-1zM305 925h1v1h-1zM306 926h1v1h-1zM307 927h1v1h-1zM308 928h1v1h-1zM309 929h1v1h-1zM310 930h1v1h-1zM311 931h2v1h-2zM313 932h1v1h-1zM314 933h1v1h-1zM315 934h2v1h-2zM317 935h1v1h-1zM318 936h1v1h-1zM319 937h2v1h-2zM321 938h1v1h-1zM322 939h1v1h-1zM323 940h2v1h-2zM325 941h1v1h-1zM326 942h2v1h-2zM328 943h2v1h-2zM330 944h2v1h-2zM332 945h2v1h-2zM334 946h2v1h-2zM336 947h2v1h-2zM338 948h2v1h-2zM340 949h1v1h-1zM341 950h2v1h-2zM343 951h1v1h-1zM344 952h2v1h-2zM346 953h1v1h-1zM347 954h2v1h-2zM349 955h2v1h-2zM351 956h1v1h-1zM352 957h2v1h-2zM354 958h1v1h-1zM355 959h2v1h-2zM357 960h2v1h-2zM359 961h2v1h-2zM361 962h2v1h-2zM363 963h2v1h-2zM365 964h2v1h-2zM367 965h2v1h-2zM369 966h1v1h-1zM370 967h2v1h-2zM372 968h2v1h-2zM374 969h2v1h-2zM376 970h2v1h-2zM378 971h2v1h-2zM380 972h2v1h-2zM382 973h2v1h-2zM384 974h1v1h-1zM385 975h2v1h-2zM387 976h2v1h-2zM389 977h2v1h-2zM391 978h2v1h-2zM393 979h2v1h-2zM395 980h2v1h-2zM397 981h2v1h-2zM399 982h2v1h-2zM401 983h3v1h-3zM404 984h3v1h-3zM407 985h3v1h-3zM410 986h3v1h-3zM413 987h3v1h-3zM416 988h2v1h-2zM418 989h2v1h-2zM420 990h3v1h-3zM423 991h2v1h-2zM425 992h2v1h-2zM427 993h3v1h-3zM430 994h4v1h-4zM434 995h4v1h-4zM438 996h4v1h-4zM442 997h3v1h-3zM445 998h4v1h-4zM449 999h4v1h-4zM453 1000h4v1h-4zM457 1001h3v1h-3zM460 1002h4v1h-4zM464 1003h4v1h-4zM468 1004h4v1h-4zM472 1005h4v1h-4zM476 1006h5v1h-5zM481 1007h5v1h-5zM486 1008h5v1h-5zM491 1009h4v1h-4zM495 1010h5v1h-5zM500 1011h11v1h-11zM511 1012h12v1h-12zM523 1013h4v1h-4zM527 1014h5v1h-5zM532 1015h5v1h-5zM537 1016h4v1h-4zM541 1017h5v1h-5zM546 1018h5v1h-5zM551 1019h4v1h-4zM555 1020h5v1h-5zM560 1021h6v1h-6zM566 1022h6v1h-6zM572 1023h7v1h-7zM579 1024h7v1h-7zM586 1025h6v1h-6zM592 1026h7v1h-7zM599 1027h8v1h-8zM607 1028h10v1h-10zM617 1029h9v1h-9zM626 1030h10v1h-10zM636 1031h8v1h-8zM644 1032h8v1h-8zM652 1033h7v1h-7zM659 1034h7v1h-7zM666 1035h8v1h-8zM674 1036h10v1h-10zM684 1037h14v1h-14zM698 1038h51v1h-51zM749 1039h8v1h-8zM757 1040h7v1h-7zM764 1041h7v1h-7zM771 1042h8v1h-8zM779 1043h10v1h-10zM789 1044h13v1h-13zM884 1044h6v1h-6zM802 1045h13v1h-13zM877 1045h7v1h-7zM890 1045h6v1h-6zM815 1046h14v1h-14zM871 1046h6v1h-6zM896 1046h5v1h-5zM829 1047h16v1h-16zM864 1047h7v1h-7zM901 1047h6v1h-6zM845 1048h19v1h-19zM907 1048h5v1h-5zM912 1049h6v1h-6zM918 1050h5v1h-5zM923 1051h6v1h-6zM929 1052h8v1h-8zM937 1053h12v1h-12zM949 1054h14v1h-14zM1044 1054h35v1h-35zM963 1055h15v1h-15zM999 1055h45v1h-45zM978 1056h21v1h-21z"/>
<g filter="url(#bold)"><text class="t" transform="translate(635.5,43) scale(1,0.95)" text-anchor="middle" style="letter-spacing:0.05px">Time Interval: 15-Jun-2025 08:00:00 to 15-Jun-2025 09:00:00</text></g>
<g filter="url(#bold)"><text class="l" transform="translate(183,535) scale(1,0.95)" text-anchor="end">Gband</text></g>
<g filter="url(#bold)"><text class="l" transform="translate(183,488) scale(1,0.95)" text-anchor="end">Al_mesh</text></g>
<g filter="url(#bold)"><text class="l" transform="translate(182,442) scale(1,0.95)" text-anchor="end">Al_poly</text></g>
<g filter="url(#bold)"><text class="l" transform="translate(182,396) scale(1,0.95)" text-anchor="end">Ti_poly</text></g>
<g filter="url(#bold)"><text class="l" transform="translate(182,349) scale(1,0.95)" text-anchor="end">C_poly</text></g>
<g filter="url(#bold)"><text class="l" transform="translate(183,303) scale(1,0.95)" text-anchor="end">Be_thin</text></g>
<g filter="url(#bold)"><text class="l" transform="translate(183,256) scale(1,0.95)" text-anchor="end">Be_med</text></g>
<g filter="url(#bold)"><text class="l" transform="translate(183,210) scale(1,0.95)" text-anchor="end">Al_med</text></g>
<g filter="url(#bold)"><text class="l" transform="translate(183,164) scale(1,0.95)" text-anchor="end">Al_thick</text></g>
<g filter="url(#bold)"><text class="l" transform="translate(183,117) scale(1,0.95)" text-anchor="end">Be_thick</text></g>
<g filter="url(#bold)"><text class="l" transform="translate(183,589) scale(1,0.95)" text-anchor="end">X1.0</text></g>
<g filter="url(#bold)"><text class="l" transform="translate(183,851) scale(1,0.95)" text-anchor="end">M1.0</text></g>
<g filter="url(#bold)"><text class="l" transform="translate(183,1110) scale(1,0.95)" text-anchor="end">C1.0</text></g>
<g filter="url(#bold)"><text class="l" transform="translate(100,840) rotate(-90) scale(1,0.95)" text-anchor="middle">GOES flux</text></g>
<g filter="url(#bold)"><text class="l" transform="translate(340,1151) scale(1,0.95)" text-anchor="middle">08:10</text></g>
<g filter="url(#bold)"><text class="l" transform="translate(488,1151) scale(1,0.95)" text-anchor="middle">08:20</text></g>
<g filter="url(#bold)"><text class="l" transform="translate(636,1151) scale(1,0.95)" text-anchor="middle">08:30</text></g>
<g filter="url(#bold)"><text class="l" transform="translate(784,1151) scale(1,0.95)" text-anchor="middle">08:40</text></g>
<g filter="url(#bold)"><text class="l" transform="translate(932,1151) scale(1,0.95)" text-anchor="middle">08:50</text></g>
<g filter="url(#bold)"><text class="l" transform="translate(1080,1151) scale(1,0.95)" text-anchor="middle">09:00</text></g>
<path shape-rendering="crispEdges" fill="#000" d="M1329 130h16v1h-16zM1320 131h9v1h-9zM1345 131h9v1h-9zM1313 132h7v1h-7zM1354 132h7v1h-7zM1308 133h5v1h-5zM1361 133h5v1h-5zM1304 134h4v1h-4zM1366 134h4v1h-4zM1299 135h5v1h-5zM1370 135h5v1h-5zM1297 136h2v1h-2zM1375 136h2v1h-2zM1293 137h4v1h-4zM1377 137h4v1h-4zM1290 138h3v1h-3zM1381 138h2v1h-2zM1288 139h2v1h-2zM1383 139h3v1h-3zM1286 140h2v1h-2zM1386 140h2v1h-2zM1284 141h2v1h-2zM1388 141h2v1h-2zM1282 142h2v1h-2zM1390 142h2v1h-2zM1280 143h2v1h-2zM1392 143h2v1h-2zM1278 144h2v1h-2zM1394 144h2v1h-2zM1276 145h2v1h-2zM1396 145h2v1h-2zM1274 146h2v1h-2zM1398 146h2v1h-2zM1272 147h2v1h-2zM1400 147h2v1h-2zM1270 148h2v1h-2zM1402 148h2v1h-2zM1268 149h2v1h-2zM1404 149h2v1h-2zM1266 150h2v1h-2zM1406 150h1v1h-1zM1265 151h1v1h-1zM1407 151h1v1h-1zM1264 152h1v1h-1zM1408 152h2v1h-2zM1262 153h2v1h-2zM1410 153h2v1h-2zM1260 154h2v1h-2zM1412 154h1v1h-1zM1259 155h1v1h-1zM1413 155h1v1h-1zM1258 156h1v1h-1zM1414 156h2v1h-2zM1256 157h2v1h-2zM1416 157h2v1h-2zM1254 158h2v1h-2zM1418 158h1v1h-1zM1253 159h1v1h-1zM1419 159h1v1h-1zM1252 160h1v1h-1zM1420 160h1v1h-1zM1251 161h1v1h-1zM1421 161h1v1h-1zM1250 162h1v1h-1zM1422 162h1v1h-1zM1249 163h1v1h-1zM1423 163h2v1h-2zM1247 164h2v1h-2zM1425 164h1v1h-1zM1246 165h1v1h-1zM1426 165h1v1h-1zM1245 166h1v1h-1zM1427 166h1v1h-1zM1244 167h1v1h-1zM1428 167h1v1h-1zM1243 168h1v1h-1zM1429 168h1v1h-1zM1242 169h1v1h-1zM1430 169h1v1h-1zM1241 170h1v1h-1zM1431 170h1v1h-1zM1240 171h1v1h-1zM1432 171h1v1h-1zM1239 172h1v1h-1zM1433 172h1v1h-1zM1238 173h1v1h-1zM1434 173h1v1h-1zM1237 174h1v1h-1zM1435 174h1v1h-1zM1236 175h1v1h-1zM1435 175h1v1h-1zM1236 176h1v1h-1zM1436 176h1v1h-1zM1235 177h1v1h-1zM1437 177h1v1h-1zM1234 178h1v1h-1zM1438 178h1v1h-1zM1233 179h1v1h-1zM1439 179h1v1h-1zM1232 180h1v1h-1zM1440 180h1v1h-1zM1231 181h1v1h-1zM1441 181h1v1h-1zM1230 182h1v1h-1zM1441 182h1v1h-1zM1230 183h1v1h-1zM1442 183h1v1h-1zM1229 184h1v1h-1zM1442 184h1v1h-1zM1229 185h1v1h-1zM1443 185h1v1h-1zM1228 186h1v1h-1zM1444 186h1v1h-1zM1227 187h1v1h-1zM1445 187h1v1h-1zM1226 188h1v1h-1zM1445 188h1v1h-1zM1226 189h1v1h-1zM1446 189h1v1h-1zM1225 190h1v1h-1zM1446 190h1v1h-1zM1225 191h1v1h-1zM1447 191h1v1h-1zM1224 192h1v1h-1zM1448 192h1v1h-1zM1223 193h1v1h-1zM1449 193h1v1h-1zM1222 194h1v1h-1zM1449 194h1v1h-1zM1222 195h1v1h-1zM1450 195h1v1h-1zM1221 196h1v1h-1zM1450 196h1v1h-1zM1221 197h1v1h-1zM1451 197h1v1h-1zM1220 198h1v1h-1zM1451 198h1v1h-1zM1220 199h1v1h-1zM1452 199h1v1h-1zM1219 200h1v1h-1zM1452 200h1v1h-1zM1219 201h1v1h-1zM1453 201h1v1h-1zM1218 202h1v1h-1zM1453 202h1v1h-1zM1218 203h1v1h-1zM1454 203h1v1h-1zM1217 204h1v1h-1zM1454 204h1v1h-1zM1217 205h1v1h-1zM1455 205h1v1h-1zM1216 206h1v1h-1zM1455 206h1v1h-1zM1216 207h1v1h-1zM1456 207h1v1h-1zM1215 208h1v1h-1zM1456 208h1v1h-1zM1215 209h1v1h-1zM1457 209h1v1h-1zM1214 210h1v1h-1zM1457 210h1v1h-1zM1214 211h1v1h-1zM1458 211h1v1h-1zM1213 212h1v1h-1zM1458 212h1v1h-1zM1213 213h1v1h-1zM1459 213h1v1h-1zM1212 214h1v1h-1zM1459 214h1v1h-1zM1212 215h1v1h-1zM1460 215h1v1h-1zM1212 216h1v1h-1zM1460 216h1v1h-1zM1211 217h1v1h-1zM1461 217h1v1h-1zM1211 218h1v1h-1zM1461 218h1v1h-1zM1210 219h1v1h-1zM1461 219h1v1h-1zM1210 220h1v1h-1zM1462 220h1v1h-1zM1210 221h1v1h-1zM1462 221h1v1h-1zM1210 222h1v1h-1zM1462 222h1v1h-1zM1209 223h1v1h-1zM1462 223h1v1h-1zM1209 224h1v1h-1zM1463 224h1v1h-1zM1208 225h1v1h-1zM1463 225h1v1h-1zM1208 226h1v1h-1zM1464 226h1v1h-1zM1208 227h1v1h-1zM1464 227h1v1h-1zM1208 228h1v1h-1zM1464 228h1v1h-1zM1208 229h1v1h-1zM1464 229h1v1h-1zM1207 230h1v1h-1zM1464 230h1v1h-1zM1207 231h1v1h-1zM1465 231h1v1h-1zM1207 232h1v1h-1zM1465 232h1v1h-1zM1207 233h1v1h-1zM1465 233h1v1h-1zM1206 234h1v1h-1zM1465 234h1v1h-1zM1206 235h1v1h-1zM1466 235h1v1h-1zM1206 236h1v1h-1zM1466 236h1v1h-1zM1206 237h1v1h-1zM1466 237h1v1h-1zM1206 238h1v1h-1zM1466 238h1v1h-1zM1205 239h1v1h-1zM1466 239h1v1h-1zM1205 240h1v1h-1zM1467 240h1v1h-1zM1205 241h1v1h-1zM1467 241h1v1h-1zM1205 242h1v1h-1zM1467 242h1v1h-1zM1205 243h1v1h-1zM1467 243h1v1h-1zM1205 244h1v1h-1zM1467 244h1v1h-1zM1205 245h1v1h-1zM1467 245h1v1h-1zM1204 246h1v1h-1zM1467 246h1v1h-1zM1204 247h1v1h-1zM1468 247h1v1h-1zM1204 248h1v1h-1zM1468 248h1v1h-1zM1204 249h1v1h-1zM1468 249h1v1h-1zM1204 250h1v1h-1zM1468 250h1v1h-1zM1204 251h1v1h-1zM1468 251h1v1h-1zM1204 252h1v1h-1zM1468 252h1v1h-1zM1204 253h1v1h-1zM1468 253h1v1h-1zM1204 254h1v1h-1zM1468 254h1v1h-1zM1203 255h1v1h-1zM1468 255h1v1h-1zM1203 256h1v1h-1zM1469 256h1v1h-1zM1203 257h1v1h-1zM1469 257h1v1h-1zM1203 258h1v1h-1zM1469 258h1v1h-1zM1203 259h1v1h-1zM1469 259h1v1h-1zM1203 260h1v1h-1zM1469 260h1v1h-1zM1203 261h1v1h-1zM1469 261h1v1h-1zM1203 262h1v1h-1zM1469 262h1v1h-1zM1203 263h1v1h-1zM1469 263h1v1h-1zM1203 264h1v1h-1zM1469 264h1v1h-1zM1203 265h1v1h-1zM1469 265h1v1h-1zM1203 266h1v1h-1zM1469 266h1v1h-1zM1203 267h1v1h-1zM1469 267h1v1h-1zM1203 268h1v1h-1zM1469 268h1v1h-1zM1203 269h1v1h-1zM1469 269h1v1h-1zM1203 270h1v1h-1zM1469 270h1v1h-1zM1204 271h1v1h-1zM1469 271h1v1h-1zM1204 272h1v1h-1zM1468 272h1v1h-1zM1204 273h1v1h-1zM1468 273h1v1h-1zM1204 274h1v1h-1zM1468 274h1v1h-1zM1204 275h1v1h-1zM1468 275h1v1h-1zM1204 276h1v1h-1zM1468 276h1v1h-1zM1204 277h1v1h-1zM1468 277h1v1h-1zM1204 278h1v1h-1zM1468 278h1v1h-1zM1204 279h1v1h-1zM1468 279h1v1h-1zM1205 280h1v1h-1zM1468 280h1v1h-1zM1205 281h1v1h-1zM1467 281h1v1h-1zM1205 282h1v1h-1zM1467 282h1v1h-1zM1205 283h1v1h-1zM1467 283h1v1h-1zM1205 284h1v1h-1zM1467 284h1v1h-1zM1205 285h1v1h-1zM1467 285h1v1h-1zM1205 286h1v1h-1zM1467 286h1v1h-1zM1206 287h1v1h-1zM1467 287h1v1h-1zM1206 288h1v1h-1zM1466 288h1v1h-1zM1206 289h1v1h-1zM1466 289h1v1h-1zM1206 290h1v1h-1zM1466 290h1v1h-1zM1206 291h1v1h-1zM1466 291h1v1h-1zM1207 292h1v1h-1zM1466 292h1v1h-1zM1207 293h1v1h-1zM1465 293h1v1h-1zM1207 294h1v1h-1zM1465 294h1v1h-1zM1207 295h1v1h-1zM1465 295h1v1h-1zM1208 296h1v1h-1zM1465 296h1v1h-1zM1208 297h1v1h-1zM1464 297h1v1h-1zM1208 298h1v1h-1zM1464 298h1v1h-1zM1208 299h1v1h-1zM1464 299h1v1h-1zM1208 300h1v1h-1zM1464 300h1v1h-1zM1209 301h1v1h-1zM1464 301h1v1h-1zM1209 302h1v1h-1zM1463 302h1v1h-1zM1210 303h1v1h-1zM1463 303h1v1h-1zM1210 304h1v1h-1zM1462 304h1v1h-1zM1210 305h1v1h-1zM1462 305h1v1h-1zM1210 306h1v1h-1zM1462 306h1v1h-1zM1211 307h1v1h-1zM1462 307h1v1h-1zM1211 308h1v1h-1zM1461 308h1v1h-1zM1211 309h1v1h-1zM1461 309h1v1h-1zM1212 310h1v1h-1zM1460 310h1v1h-1zM1212 311h1v1h-1zM1460 311h1v1h-1zM1213 312h1v1h-1zM1460 312h1v1h-1zM1213 313h1v1h-1zM1459 313h1v1h-1zM1214 314h1v1h-1zM1459 314h1v1h-1zM1214 315h1v1h-1zM1458 315h1v1h-1zM1215 316h1v1h-1zM1458 316h1v1h-1zM1215 317h1v1h-1zM1457 317h1v1h-1zM1216 318h1v1h-1zM1457 318h1v1h-1zM1216 319h1v1h-1zM1456 319h1v1h-1zM1217 320h1v1h-1zM1456 320h1v1h-1zM1217 321h1v1h-1zM1455 321h1v1h-1zM1218 322h1v1h-1zM1455 322h1v1h-1zM1218 323h1v1h-1zM1454 323h1v1h-1zM1219 324h1v1h-1zM1454 324h1v1h-1zM1219 325h1v1h-1zM1453 325h1v1h-1zM1220 326h1v1h-1zM1453 326h1v1h-1zM1220 327h1v1h-1zM1452 327h1v1h-1zM1221 328h1v1h-1zM1452 328h1v1h-1zM1221 329h1v1h-1zM1451 329h1v1h-1zM1222 330h1v1h-1zM1451 330h1v1h-1zM1222 331h1v1h-1zM1450 331h1v1h-1zM1223 332h1v1h-1zM1450 332h1v1h-1zM1223 333h1v1h-1zM1449 333h1v1h-1zM1224 334h1v1h-1zM1448 334h1v1h-1zM1225 335h1v1h-1zM1447 335h1v1h-1zM1226 336h1v1h-1zM1447 336h1v1h-1zM1226 337h1v1h-1zM1446 337h1v1h-1zM1227 338h1v1h-1zM1446 338h1v1h-1zM1227 339h1v1h-1zM1445 339h1v1h-1zM1228 340h1v1h-1zM1444 340h1v1h-1zM1229 341h1v1h-1zM1443 341h1v1h-1zM1230 342h1v1h-1zM1443 342h1v1h-1zM1230 343h1v1h-1zM1442 343h1v1h-1zM1231 344h1v1h-1zM1442 344h1v1h-1zM1231 345h1v1h-1zM1441 345h1v1h-1zM1232 346h1v1h-1zM1440 346h1v1h-1zM1233 347h1v1h-1zM1439 347h1v1h-1zM1234 348h1v1h-1zM1438 348h1v1h-1zM1235 349h1v1h-1zM1437 349h1v1h-1zM1236 350h1v1h-1zM1436 350h1v1h-1zM1237 351h1v1h-1zM1436 351h1v1h-1zM1237 352h1v1h-1zM1435 352h1v1h-1zM1238 353h1v1h-1zM1434 353h1v1h-1zM1239 354h1v1h-1zM1433 354h1v1h-1zM1240 355h1v1h-1zM1432 355h1v1h-1zM1241 356h1v1h-1zM1431 356h1v1h-1zM1242 357h1v1h-1zM1430 357h1v1h-1zM1243 358h1v1h-1zM1429 358h1v1h-1zM1244 359h1v1h-1zM1428 359h1v1h-1zM1245 360h1v1h-1zM1427 360h1v1h-1zM1246 361h1v1h-1zM1426 361h1v1h-1zM1247 362h1v1h-1zM1424 362h2v1h-2zM1248 363h2v1h-2zM1423 363h1v1h-1zM1250 364h1v1h-1zM1422 364h1v1h-1zM1251 365h1v1h-1zM1421 365h1v1h-1zM1252 366h1v1h-1zM1420 366h1v1h-1zM1253 367h1v1h-1zM1419 367h1v1h-1zM1254 368h1v1h-1zM1417 368h2v1h-2zM1255 369h2v1h-2zM1415 369h2v1h-2zM1257 370h2v1h-2zM1414 370h1v1h-1zM1259 371h1v1h-1zM1413 371h1v1h-1zM1260 372h1v1h-1zM1411 372h2v1h-2zM1261 373h2v1h-2zM1409 373h2v1h-2zM1263 374h2v1h-2zM1408 374h1v1h-1zM1265 375h1v1h-1zM1407 375h1v1h-1zM1266 376h1v1h-1zM1405 376h2v1h-2zM1267 377h2v1h-2zM1403 377h2v1h-2zM1269 378h2v1h-2zM1401 378h2v1h-2zM1271 379h2v1h-2zM1399 379h2v1h-2zM1273 380h2v1h-2zM1397 380h2v1h-2zM1275 381h2v1h-2zM1395 381h2v1h-2zM1277 382h2v1h-2zM1393 382h2v1h-2zM1279 383h2v1h-2zM1391 383h2v1h-2zM1281 384h2v1h-2zM1389 384h2v1h-2zM1283 385h2v1h-2zM1387 385h2v1h-2zM1285 386h2v1h-2zM1385 386h2v1h-2zM1287 387h3v1h-3zM1383 387h2v1h-2zM1290 388h2v1h-2zM1380 388h3v1h-3zM1292 389h4v1h-4zM1376 389h4v1h-4zM1296 390h2v1h-2zM1374 390h2v1h-2zM1298 391h5v1h-5zM1369 391h5v1h-5zM1303 392h4v1h-4zM1365 392h4v1h-4zM1307 393h5v1h-5zM1360 393h5v1h-5zM1312 394h7v1h-7zM1353 394h7v1h-7zM1319 395h9v1h-9zM1344 395h9v1h-9zM1328 396h16v1h-16z"/>
<polygon shape-rendering="crispEdges" fill="#f00" points="1464.5,286.0 1467.7,295.0 1474.4,295.1 1474.4,295.7 1469.1,299.4 1471.9,308.0 1464.5,302.7 1457.1,308.0 1459.9,299.4 1454.6,295.7 1454.6,295.1 1461.3,295.0"/>
<g filter="url(#bold2)"><text class="s" transform="translate(1463.7,317) scale(1,0.95)" text-anchor="middle">4107</text></g>
<polygon shape-rendering="crispEdges" fill="#f00" points="1457.5,287.0 1460.7,295.0 1467.4,295.1 1467.4,295.7 1462.1,299.4 1465.2,309.0 1457.5,303.2 1449.8,309.0 1452.9,299.4 1447.6,295.7 1447.6,295.1 1454.3,295.0"/>
<g filter="url(#bold2)"><text class="s" transform="translate(1457.7,317) scale(1,0.95)" text-anchor="middle">4109</text></g>
<polygon shape-rendering="crispEdges" fill="#f00" points="1448.5,239.0 1451.7,248.0 1459.3,248.1 1459.3,248.7 1453.1,252.4 1455.9,261.0 1448.5,255.7 1441.1,261.0 1443.9,252.4 1438.6,248.7 1438.6,248.1 1445.3,248.0"/>
<g filter="url(#bold2)"><text class="s" transform="translate(1448.7,270) scale(1,0.95)" text-anchor="middle">4110</text></g>
<polygon shape-rendering="crispEdges" fill="#f00" points="1336.5,222.0 1339.7,230.0 1346.4,230.1 1346.4,230.7 1341.1,234.4 1343.9,243.0 1336.5,237.7 1329.1,243.0 1331.9,234.4 1326.6,230.7 1326.6,230.1 1333.3,230.0"/>
<g filter="url(#bold2)"><text class="s" transform="translate(1336.7,252) scale(1,0.95)" text-anchor="middle">4111</text></g>
<polygon shape-rendering="crispEdges" fill="#f00" points="1295.5,231.0 1298.7,239.0 1306.3,239.1 1306.3,239.7 1300.1,243.4 1302.9,252.0 1295.5,246.7 1288.1,252.0 1290.9,243.4 1285.6,239.7 1285.6,239.1 1292.3,239.0"/>
<g filter="url(#bold2)"><text class="s" transform="translate(1295.7,261) scale(1,0.95)" text-anchor="middle">4113</text></g>
<polygon shape-rendering="crispEdges" fill="#f00" points="1280.5,215.0 1283.7,223.0 1291.3,223.1 1291.3,223.7 1285.1,227.4 1287.9,236.0 1280.5,230.7 1273.1,236.0 1275.9,227.4 1270.6,223.7 1270.6,223.1 1277.3,223.0"/>
<g filter="url(#bold2)"><text class="s" transform="translate(1280.7,245) scale(1,0.95)" text-anchor="middle">4114</text></g>
<polygon shape-rendering="crispEdges" fill="#f00" points="1256.5,206.0 1259.7,214.0 1266.4,214.1 1266.4,214.7 1261.1,218.4 1263.9,227.0 1256.5,221.7 1249.1,227.0 1251.9,218.4 1246.6,214.7 1246.6,214.1 1253.3,214.0"/>
<g filter="url(#bold2)"><text class="s" transform="translate(1256.7,236) scale(1,0.95)" text-anchor="middle">4115</text></g>
<polygon shape-rendering="crispEdges" fill="#f00" points="1279.5,282.0 1282.7,290.0 1289.4,290.1 1289.4,290.7 1284.1,294.4 1286.9,303.0 1279.5,297.7 1272.1,303.0 1274.9,294.4 1268.7,290.7 1268.7,290.1 1276.3,290.0"/>
<g filter="url(#bold2)"><text class="s" transform="translate(1279.7,312) scale(1,0.95)" text-anchor="middle">4116</text></g>
<g shape-rendering="crispEdges" fill="#f0f">
<rect x="1182" y="118" width="297" height="1" fill="#f0f"/>
<rect x="1182" y="414" width="297" height="1" fill="#f0f"/>
<rect x="1182" y="118" width="1" height="297" fill="#f0f"/>
<rect x="1478" y="118" width="1" height="297" fill="#f0f"/>
<rect x="1302" y="165" width="251" height="1" fill="#f0f"/>
<rect x="1302" y="461" width="251" height="1" fill="#f0f"/>
<rect x="1302" y="165" width="2" height="297" fill="#f0f"/>
</g>
</svg></body></html>
